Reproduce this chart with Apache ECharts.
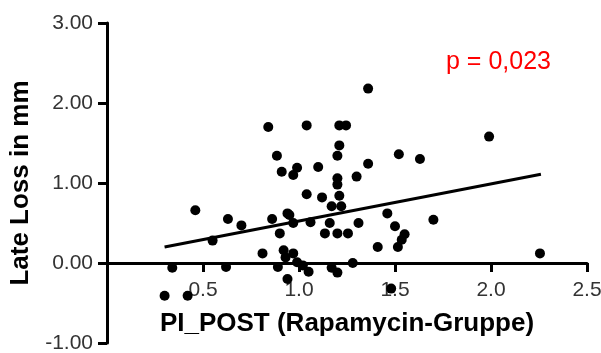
<!DOCTYPE html>
<html>
<head>
<meta charset="UTF-8">
<title>Late Loss scatter</title>
<script src="https://cdn.jsdelivr.net/npm/echarts@6/dist/echarts.min.js"></script>
<style type="text/css">
body{margin:0;padding:0;background:#fff;}
#main{width:601px;height:353px;}
</style>
</head>
<body>
<div id="main"></div>
<script type="text/javascript">
// values
var xValues = [0.30, 0.42, 0.34, 0.46, 0.55, 0.62, 0.63, 0.70, 0.81, 0.84,
               0.86, 0.885, 0.89, 0.90, 0.91, 0.92, 0.94, 0.94, 0.97, 0.97,
               0.99, 0.97, 0.99, 1.02, 1.04, 1.04, 1.05, 1.06, 1.10, 1.12,
               1.135, 1.17, 1.17, 1.20, 1.20, 1.20, 1.20, 1.20, 1.21, 1.21,
               1.245, 1.21, 1.22, 1.255, 1.28, 1.30, 1.31, 1.36, 1.36, 1.41,
               1.46, 1.50, 1.515, 1.535, 1.55, 1.52, 1.63, 1.70, 1.99, 2.255,
               1.16, 0.93, 0.95, 1.48];
var yValues = [-0.41, -0.41, -0.06, 0.66, 0.28, -0.05, 0.55, 0.47, 0.12, 1.70,
               0.55, 1.34, -0.05, 0.37, 1.14, 0.16, 0.62, -0.20, 0.12, 1.10,
               1.19, 0.50, 0.01, -0.03, 1.72, 0.86, -0.11, 0.51, 1.20, 0.82,
               0.37, 0.71, -0.06, -0.12, 0.37, 1.34, 1.06, 0.98, 1.47, 1.72,
               1.72, 0.84, 0.71, 0.37, 0.00, 1.08, 0.50, 2.18, 1.24, 0.20,
               0.62, 0.46, 0.20, 0.29, 0.36, 1.36, 1.30, 0.54, 1.58, 0.12,
               0.50, 0.07, 0.60, -0.32];
// regression line end points
var fitX = [0.30, 2.26];
var fitY = [0.20, 1.11];

var xTicks = [0.5, 1.0, 1.5, 2.0, 2.5];
var yTicks = [-1, 0, 1, 2, 3];
var pText = 'p = 0,023';
var xTitle = 'PI_POST (Rapamycin-Gruppe)';
var yTitle = 'Late Loss in mm';

var myChart = echarts.init(document.getElementById('main'));

var points = xValues.map(function (x, i) { return [x, yValues[i]]; });
var fit = fitX.map(function (x, i) { return [x, fitY[i]]; });

// x axis sits on y = 0 : grid bottom is y = -1, 80px per unit
myChart.setOption({
    animation: false,
    grid: {left: 107, right: 14, top: 23, bottom: 10, containLabel: false, outerBoundsMode: 'none'},
    xAxis: {
        type: 'value',
        min: 0,
        max: xTicks[xTicks.length - 1],
        interval: 0.5,
        offset: -80,
        splitLine: {show: false},
        axisLine: {onZero: false, lineStyle: {color: '#000', width: 3}},
        axisTick: {show: true, length: 9, lineStyle: {color: '#000', width: 3}},
        axisLabel: {
            showMinLabel: false,
            hideOverlap: false,
            margin: 17,
            color: '#333',
            fontFamily: 'Liberation Sans',
            fontSize: 21,
            formatter: function (v) { return v.toFixed(1); }
        }
    },
    yAxis: {
        type: 'value',
        min: yTicks[0],
        max: yTicks[yTicks.length - 1],
        interval: 1,
        splitLine: {show: false},
        axisLine: {lineStyle: {color: '#000', width: 3}},
        axisTick: {show: true, length: 9, lineStyle: {color: '#000', width: 3}},
        axisLabel: {
            margin: 14,
            color: '#333',
            fontFamily: 'Liberation Sans',
            fontSize: 21,
            formatter: function (v) { return v.toFixed(2); }
        },
        name: yTitle,
        nameLocation: 'middle',
        nameGap: 70,
        nameTextStyle: {color: '#000', fontFamily: 'Liberation Sans', fontWeight: 'bold', fontSize: 26}
    },
    graphic: [
        {type: 'text',
         style: {x: 347, y: 324, text: xTitle, align: 'center', verticalAlign: 'middle',
                 fill: '#000', font: 'bold 26px "Liberation Sans"'}},
        {type: 'text', left: 446, top: 50,
         style: {text: pText, fill: '#ff0000', font: '25px "Liberation Sans"'}}
    ],
    series: [
        {
            type: 'scatter',
            data: points,
            symbolSize: 10,
            itemStyle: {color: '#000', opacity: 1}
        },
        {
            type: 'line',
            data: fit,
            symbol: 'none',
            lineStyle: {color: '#000', width: 3}
        }
    ]
});
</script>
</body>
</html>
